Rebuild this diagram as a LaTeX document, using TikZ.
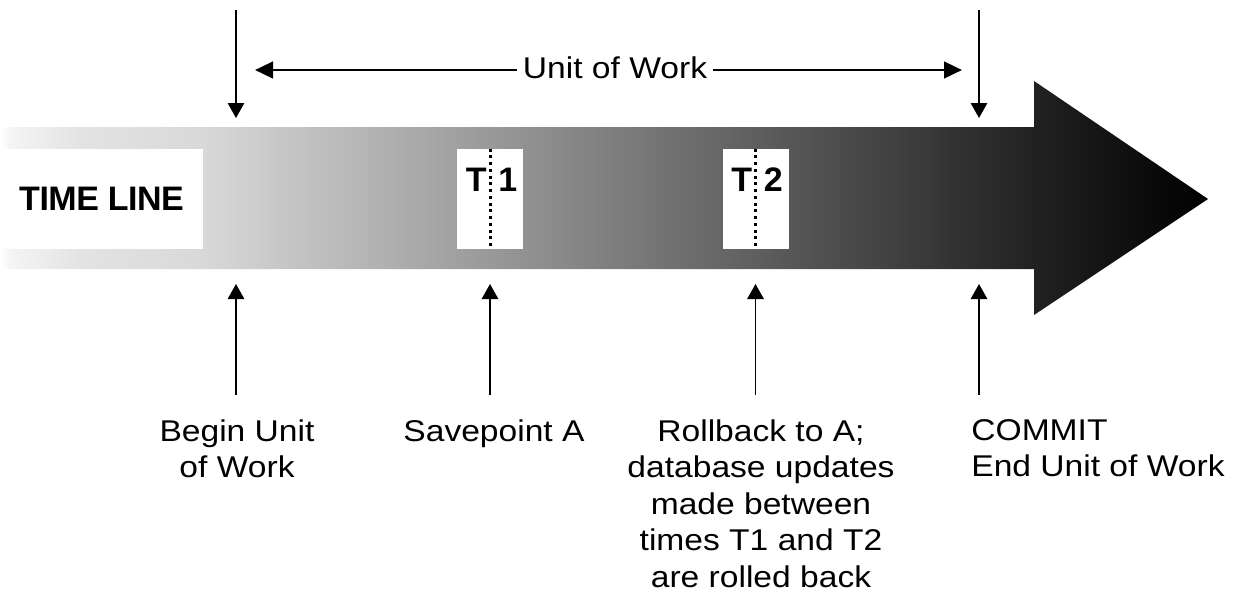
\documentclass[tikz,border=0pt]{standalone}
\usepackage{fontspec}
\setmainfont{Liberation Sans}[FakeStretch=1.12]
\newfontfamily\tlfont{Liberation Sans}[LetterSpace=-1.5]
\usepackage{tikz}
\usetikzlibrary{arrows.meta,calc,positioning}
\pgfdeclarehorizontalshading{fade}{100bp}{color(0bp)=(white); color(25bp)=(white); color(25.4bp)=(black!4); color(28.3bp)=(black!11); color(33.3bp)=(black!15); color(67.8bp)=(black!87); color(75bp)=(black); color(100bp)=(black)}
\tikzset{%
	band/.style    = {shading=fade}, % Time arrow
	tbox/.style    = {fill=white, rectangle, minimum width=1.32cm, minimum height=2cm, inner sep=0pt},
	tnum/.style    = {inner sep=0pt, font=\fontsize{19.35}{22}\tlfont\bfseries},
	dots/.style    = {line width=0.06cm, dash pattern=on 0.06cm off 0.075cm},
	lbl/.style     = {inner sep=0pt, align=center, font=\fontsize{17.07}{20.77}\selectfont},
	pointer/.style = {line width=0.75pt, -{Triangle[length=0.3cm, width=0.33cm]}},
	span/.style    = {line width=1.7pt, -{Triangle[length=0.36cm, width=0.33cm]}},
}

\begin{document}
\begin{tikzpicture}[x=0.02cm, y=-0.02cm]
	\useasboundingbox (0,0) rectangle (1233,596);
	% time arrow
	\shade[band] (0,127) -- (1034,127) -- (1034,81) -- (1208,199) -- (1034,315) -- (1034,269) -- (0,269) -- cycle;
	\node[tbox, minimum width=4.06cm, tnum] (tl) at (101.5,199) {TIME LINE};
	\node[tbox] (t1) at (490,199) {};
	\node[tbox] (t2) at (755.5,199) {};
	\draw[dots] (t1.north) -- (t1.south);
	\draw[dots] (t2.north) -- (t2.south);
	\node[tnum, below left=0.38cm and 0.06cm of t1.north] (t1a) {T};
	\node[tnum, below right=0.38cm and 0.16cm of t1.north] (t1b) {1};
	\node[tnum, below left=0.38cm and 0.06cm of t2.north] (t2a) {T};
	\node[tnum, below right=0.38cm and 0.16cm of t2.north] (t2b) {2};
	% unit of work
	\coordinate (ul) at (255,70);
	\coordinate (ur) at (962,70);
	\node[lbl, anchor=base, inner xsep=0.12cm] (unit) at (615,78) {Unit of Work};
	\draw[span] (unit.west |- ul) -- (ul);
	\draw[span] (unit.east |- ur) -- (ur);
	\coordinate (bt) at (236,10);
	\coordinate (bb) at (236,118);
	\coordinate (et) at (979,10);
	\coordinate (eb) at (979,118);
	\draw[pointer] (bt) -- (bb);
	\draw[pointer] (et) -- (eb);
	% labels below
	\node[lbl, anchor=north] (lb) at (237,419) {Begin Unit\\of Work};
	\node[lbl, anchor=north] (ls) at (494,419) {Savepoint A};
	\node[lbl, anchor=north] (lr) at (761,419) {Rollback to A;\\database updates\\made between\\times T1 and T2\\are rolled back};
	\node[lbl, anchor=north west, align=left] (lc) at (971,419) {COMMIT\\End Unit of Work};
	\coordinate (p1) at (236,395);
	\coordinate (q1) at (236,284);
	\coordinate (p2) at (490,395);
	\coordinate (q2) at (490,284);
	\coordinate (p3) at (755.5,395);
	\coordinate (q3) at (755.5,284);
	\coordinate (p4) at (979,395);
	\coordinate (q4) at (979,284);
	\draw[pointer] (p1) -- (q1);
	\draw[pointer] (p2) -- (q2);
	\draw[pointer] (p3) -- (q3);
	\draw[pointer] (p4) -- (q4);
\end{tikzpicture}
\end{document}
